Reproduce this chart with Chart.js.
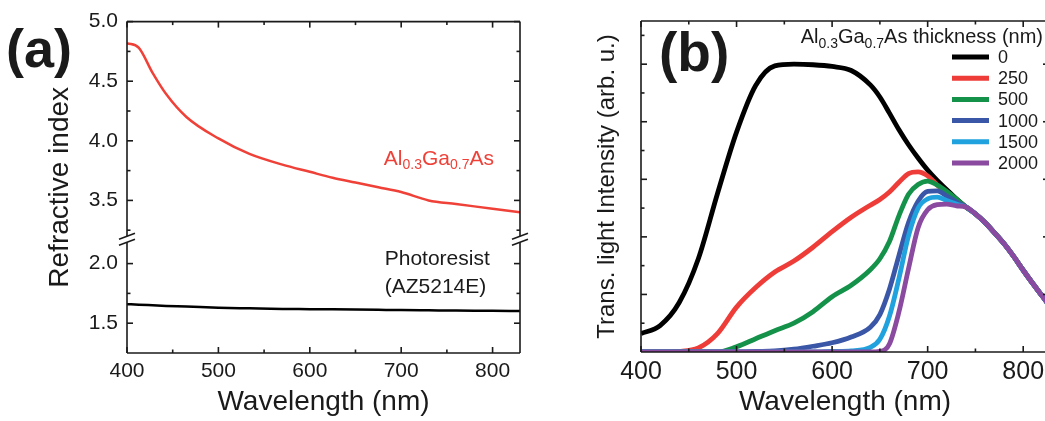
<!DOCTYPE html>
<html lang="en">
<head>
<meta charset="utf-8" />
<title>Refractive index and transmitted light</title>
<script src="https://cdn.jsdelivr.net/npm/chart.js@4"></script>
<style>
  html, body { margin: 0; padding: 0; background: #fff; overflow: hidden; }
  body { width: 1045px; height: 421px; position: relative; }
  #wrapA { position: absolute; left: 0; top: 0; }
  #wrapB { position: absolute; left: 560px; top: 0; }
</style>
</head>
<body>
<div id="wrapA"><canvas id="chartA" width="545" height="421"></canvas></div>
<div id="wrapB"><canvas id="chartB" width="500" height="421"></canvas></div>
<script>
// ---- panel (a): refractive index ----
var wl_a = [400, 413, 428, 443, 465, 500, 534, 570, 600, 625, 650, 675, 700, 730, 760, 800, 830];
var n_algaas = [4.82, 4.78, 4.57, 4.39, 4.20, 4.02, 3.89, 3.80, 3.74, 3.69, 3.65, 3.61, 3.57, 3.50, 3.47, 3.43, 3.40];
var n_resist = [1.66, 1.655, 1.65, 1.645, 1.64, 1.63, 1.625, 1.62, 1.618, 1.616, 1.614, 1.612, 1.61, 1.608, 1.606, 1.604, 1.602];
var xTicks = [400, 500, 600, 700, 800];
var xMinor = [450, 550, 650, 750];
var yTicksA = [1.5, 2.0, 3.5, 4.0, 4.5, 5.0];
var yMinorA = [1.75, 3.25, 3.75, 4.25, 4.75];

// ---- panel (b): transmitted light ----
var wl_b = [400, 420, 440, 460, 480, 500, 520, 540, 560, 580, 600, 620, 640, 650, 660, 670, 680, 690, 700, 710, 720, 730, 740, 750, 760, 770, 780, 790, 800, 810, 820, 830];
var thickness = ['0', '250', '500', '1000', '1500', '2000'];
var t_0    = [0.32, 0.46, 0.86, 1.62, 2.75, 3.82, 4.63, 4.97, 5.00, 4.99, 4.96, 4.89, 4.64, 4.43, 4.15, 3.86, 3.60, 3.37, 3.16, 2.98, 2.82, 2.66, 2.52, 2.40, 2.25, 2.07, 1.88, 1.66, 1.42, 1.19, 0.97, 0.75];
var t_250  = [0, 0, 0.01, 0.07, 0.32, 0.78, 1.12, 1.39, 1.58, 1.82, 2.09, 2.34, 2.55, 2.65, 2.78, 2.95, 3.10, 3.13, 3.06, 2.90, 2.76, 2.64, 2.52, 2.40, 2.25, 2.07, 1.88, 1.66, 1.42, 1.19, 0.97, 0.75];
var t_500  = [0, 0, 0, 0, 0, 0.09, 0.23, 0.37, 0.50, 0.70, 0.96, 1.16, 1.43, 1.62, 1.92, 2.37, 2.74, 2.91, 2.97, 2.90, 2.79, 2.66, 2.52, 2.40, 2.25, 2.07, 1.88, 1.66, 1.42, 1.19, 0.97, 0.75];
var t_1000 = [0, 0, 0, 0, 0, 0, 0.01, 0.02, 0.05, 0.10, 0.16, 0.26, 0.43, 0.65, 1.09, 1.68, 2.25, 2.62, 2.79, 2.80, 2.71, 2.61, 2.52, 2.40, 2.25, 2.07, 1.88, 1.66, 1.42, 1.19, 0.97, 0.75];
var t_1500 = [0, 0, 0, 0, 0, 0, 0, 0, 0, 0, 0.01, 0.02, 0.08, 0.22, 0.62, 1.28, 2.02, 2.50, 2.66, 2.69, 2.63, 2.57, 2.52, 2.40, 2.25, 2.07, 1.88, 1.66, 1.42, 1.19, 0.97, 0.75];
var t_2000 = [0, 0, 0, 0, 0, 0, 0, 0, 0, 0, 0, 0, 0, 0.01, 0.14, 0.70, 1.45, 2.16, 2.47, 2.56, 2.57, 2.54, 2.52, 2.40, 2.25, 2.07, 1.88, 1.66, 1.42, 1.19, 0.97, 0.75];
var colorsB = ['#000000', '#ee3d38', '#15924a', '#3a56a6', '#1fa2dd', '#8a4aa0'];
var yMajorB = [1, 2, 3, 4, 5];
var yMinorB = [0.5, 1.5, 2.5, 3.5, 4.5, 5.5];

var FONT = "'Liberation Sans', Arial, Helvetica, sans-serif";
var INK = '#1a1a1a';
var RED_A = '#ef4138';
Chart.defaults.font.family = FONT;
Chart.defaults.color = INK;

// broken y axis of panel (a): values above the break are shifted down
var BREAK_LO = 2.2, GAP = 0.97;
function toAxis(v) { return v > BREAK_LO ? v - GAP : v; }
function fromAxis(d) { return d > BREAK_LO + 0.001 ? d + GAP : d; }

function pts(xs, ys, f) {
  return xs.map(function (x, i) { return { x: x, y: f ? f(ys[i]) : ys[i] }; });
}

// text with subscripts, parts = [[text, isSub], ...]
function drawRich(ctx, parts, x, y, size, subSize, align) {
  var widths = parts.map(function (p) {
    ctx.font = (p[1] ? subSize : size) + 'px ' + FONT;
    return ctx.measureText(p[0]).width;
  });
  var total = widths.reduce(function (a, b) { return a + b; }, 0);
  var cx = align === 'right' ? x - total : x;
  ctx.textAlign = 'left';
  ctx.textBaseline = 'alphabetic';
  parts.forEach(function (p, i) {
    ctx.font = (p[1] ? subSize : size) + 'px ' + FONT;
    ctx.fillText(p[0], cx, p[1] ? y + subSize * 0.33 : y);
    cx += widths[i];
  });
}

// frame with inward ticks, optional break on the y axis
function framePlugin(cfg) {
  return {
    id: 'frame',
    afterDatasetsDraw: function (chart) {
      var ctx = chart.ctx, a = chart.chartArea;
      var sx = chart.scales.x, sy = chart.scales.y;
      ctx.save();
      ctx.strokeStyle = INK;
      ctx.lineWidth = 1.6;
      ctx.lineCap = 'butt';
      function line(x1, y1, x2, y2) { ctx.beginPath(); ctx.moveTo(x1, y1); ctx.lineTo(x2, y2); ctx.stroke(); }
      line(a.left, a.top, a.right, a.top);
      line(a.left, a.bottom, a.right, a.bottom);
      if (cfg.breakAt != null) {
        var yb = sy.getPixelForValue(cfg.breakAt);
        [a.left, a.right].forEach(function (xx) {
          line(xx, a.top, xx, yb - 3);
          line(xx, yb + 3, xx, a.bottom);
          line(xx - 8, yb - 3 + 3, xx + 8, yb - 3 - 3);
          line(xx - 8, yb + 3 + 3, xx + 8, yb + 3 - 3);
        });
      } else {
        line(a.left, a.top, a.left, a.bottom);
        line(a.right, a.top, a.right, a.bottom);
      }
      function xt(vals, len) {
        vals.forEach(function (v) {
          var px = sx.getPixelForValue(v);
          line(px, a.bottom, px, a.bottom - len);
          line(px, a.top, px, a.top + len);
        });
      }
      function yt(vals, len) {
        vals.forEach(function (v) {
          var py = sy.getPixelForValue(v);
          line(a.left, py, a.left + len, py);
          line(a.right, py, a.right - len, py);
        });
      }
      xt(cfg.xMajor, 6); xt(cfg.xMinor, 3.5);
      yt(cfg.yMajor, 6); yt(cfg.yMinor, 3.5);
      ctx.restore();
    }
  };
}

var labelsA = {
  id: 'labelsA',
  afterDraw: function (chart) {
    var ctx = chart.ctx, sx = chart.scales.x, sy = chart.scales.y;
    ctx.save();
    ctx.fillStyle = INK;
    ctx.font = 'bold 54px ' + FONT;
    ctx.textAlign = 'left';
    ctx.textBaseline = 'alphabetic';
    ctx.fillText('(a)', 6, 67);
    ctx.fillStyle = RED_A;
    drawRich(ctx, [['Al', 0], ['0.3', 1], ['Ga', 0], ['0.7', 1], ['As', 0]],
      sx.getPixelForValue(681), sy.getPixelForValue(toAxis(3.80)), 21, 14);
    ctx.fillStyle = INK;
    drawRich(ctx, [['Photoresist', 0]], sx.getPixelForValue(682), sy.getPixelForValue(1.99), 21, 14);
    drawRich(ctx, [['(AZ5214E)', 0]], sx.getPixelForValue(682), sy.getPixelForValue(1.75), 21, 14);
    ctx.restore();
  }
};

var legendB = {
  id: 'legendB',
  afterDraw: function (chart) {
    var ctx = chart.ctx;
    ctx.save();
    ctx.fillStyle = INK;
    ctx.font = 'bold 55px ' + FONT;
    ctx.textAlign = 'left';
    ctx.textBaseline = 'alphabetic';
    ctx.fillText('(b)', 99, 71);
    drawRich(ctx, [['Al', 0], ['0.3', 1], ['Ga', 0], ['0.7', 1], ['As thickness (nm)', 0]], 483, 43, 20, 14, 'right');
    chart.data.datasets.forEach(function (ds, i) {
      var yy = 57 + i * 21.2;
      ctx.strokeStyle = ds.borderColor;
      ctx.lineWidth = 5;
      ctx.beginPath(); ctx.moveTo(392, yy); ctx.lineTo(429, yy); ctx.stroke();
      ctx.font = '18px ' + FONT;
      ctx.textBaseline = 'middle';
      ctx.fillStyle = INK;
      ctx.fillText(ds.label, 438, yy + 1);
    });
    ctx.restore();
  }
};

var chartA = new Chart(document.getElementById('chartA'), {
  type: 'line',
  data: {
    datasets: [
      { label: 'Al0.3Ga0.7As', data: pts(wl_a, n_algaas, toAxis), borderColor: RED_A, borderWidth: 2.5,
        pointRadius: 0, cubicInterpolationMode: 'monotone' },
      { label: 'Photoresist (AZ5214E)', data: pts(wl_a, n_resist, toAxis), borderColor: '#000', borderWidth: 2.5,
        pointRadius: 0, cubicInterpolationMode: 'monotone' }
    ]
  },
  options: {
    responsive: false,
    animation: false,
    layout: { padding: { left: 0, right: 25, top: 21, bottom: 0 } },
    plugins: { legend: { display: false }, tooltip: { enabled: false } },
    scales: {
      x: {
        type: 'linear', min: 400, max: 830,
        grid: { display: false, drawTicks: false }, border: { display: false },
        afterBuildTicks: function (s) { s.ticks = xTicks.map(function (v) { return { value: v }; }); },
        afterFit: function (s) { s.height = 68; },
        ticks: { font: { size: 21 }, color: INK, padding: 6, maxRotation: 0, autoSkip: false },
        title: { display: true, text: 'Wavelength (nm)', font: { size: 28 }, color: INK, padding: { top: 0, bottom: 2 } }
      },
      y: {
        type: 'linear', min: 1.25, max: 5.0 - GAP,
        grid: { display: false, drawTicks: false }, border: { display: false },
        afterBuildTicks: function (s) { s.ticks = yTicksA.map(function (v) { return { value: toAxis(v) }; }); },
        afterFit: function (s) { s.width = 127; },
        ticks: { font: { size: 21 }, color: INK, padding: 9, autoSkip: false,
          callback: function (v) { return fromAxis(v).toFixed(1); } },
        title: { display: true, text: 'Refractive index', font: { size: 28 }, color: INK, padding: { top: 43, bottom: 0 } }
      }
    }
  },
  plugins: [framePlugin({ breakAt: BREAK_LO + 0.005, xMajor: xTicks, xMinor: xMinor,
    yMajor: yTicksA.map(toAxis), yMinor: yMinorA.map(toAxis) }), labelsA]
});

var seriesB = [t_0, t_250, t_500, t_1000, t_1500, t_2000];
var chartB = new Chart(document.getElementById('chartB'), {
  type: 'line',
  data: {
    datasets: seriesB.map(function (s, i) {
      return { label: thickness[i], data: pts(wl_b, s), borderColor: colorsB[i], borderWidth: 4.8,
        pointRadius: 0, cubicInterpolationMode: 'monotone', order: seriesB.length - 1 - i };
    })
  },
  options: {
    responsive: false,
    animation: false,
    layout: { padding: { left: 0, right: 11, top: 21, bottom: 0 } },
    plugins: { legend: { display: false }, tooltip: { enabled: false } },
    scales: {
      x: {
        type: 'linear', min: 400, max: 827,
        grid: { display: false, drawTicks: false }, border: { display: false },
        afterBuildTicks: function (s) { s.ticks = xTicks.map(function (v) { return { value: v }; }); },
        afterFit: function (s) { s.height = 69; },
        ticks: { font: { size: 25 }, color: INK, padding: 5, maxRotation: 0, autoSkip: false },
        title: { display: true, text: 'Wavelength (nm)', font: { size: 28 }, color: INK, padding: { top: 0, bottom: 2 } }
      },
      y: {
        type: 'linear', min: 0, max: 5.75,
        grid: { display: false, drawTicks: false }, border: { display: false },
        afterFit: function (s) { s.width = 81; },
        ticks: { display: false },
        title: { display: true, text: 'Trans. light Intensity (arb. u.)', font: { size: 24 }, color: INK, padding: { top: 33, bottom: 0 } }
      }
    }
  },
  plugins: [framePlugin({ breakAt: null, xMajor: xTicks, xMinor: xMinor, yMajor: yMajorB, yMinor: yMinorB }), legendB]
});
</script>
</body>
</html>
